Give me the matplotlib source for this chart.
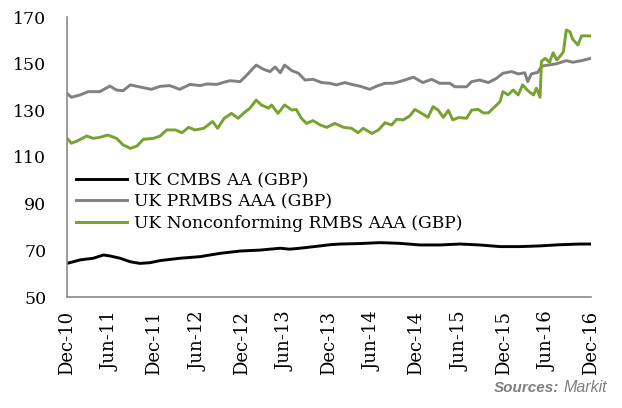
import matplotlib.pyplot as plt

plt.rcParams["font.family"] = ["DejaVu Serif"]

# x = months after Dec-2010
cmbs_m = [0, 1.8, 3.6, 5, 5.9, 7.3, 8.7, 10, 11.4, 12.8, 15.5, 18.3, 21, 23.8, 26.5, 29.3, 30.6, 32,
          34.8, 36.1, 37.5, 40.2, 43, 45.7, 48.5, 51.2, 54, 56.7, 59.5, 62.2, 65, 67.7, 70.5, 72]
cmbs_v = [64.4, 65.9, 66.6, 68.0, 67.6, 66.6, 65.1, 64.4, 64.7, 65.6, 66.6, 67.3, 68.7, 69.7, 70.1, 70.9, 70.5, 70.9,
          71.9, 72.4, 72.7, 72.9, 73.3, 73.0, 72.3, 72.3, 72.7, 72.3, 71.6, 71.6, 71.9, 72.4, 72.7, 72.7]

prmbs_m = [0, 0.6, 1.8, 2.9, 4.5, 5.9, 6.8, 7.7, 8.7, 9.6, 10.5, 11.6, 12.8, 14.1, 15.5, 16.9, 18.3, 19.2,
           20.6, 21.5, 22.4, 23.8, 24.7, 26, 27, 27.9, 28.6, 29.3, 29.9, 30.9, 31.8, 32.7, 33.8, 35, 36.1,
           37, 38.2, 39.1, 40.2, 41.6, 42.5, 43.7, 44.8, 45.7, 47.6, 48.9, 50.1, 51.2, 52.6, 53.3, 54.9,
           55.6, 56.7, 57.9, 59, 59.9, 61.1, 62, 62.9, 63.3, 63.8, 64.7, 65.2, 66.1, 67.3, 68.6, 69.5,
           70.7, 72]
prmbs_v = [137.3, 135.6, 136.6, 138.0, 138.0, 140.4, 138.7, 138.4, 140.9, 140.3, 139.7, 139.0, 140.3, 140.6,
           139.0, 141.1, 140.6, 141.3, 141.1, 142.0, 142.7, 142.3, 145.1, 149.4, 147.6, 146.6, 148.6, 146.1,
           149.4, 147.0, 145.9, 143.0, 143.3, 141.9, 141.6, 140.9, 141.9, 141.1, 140.4, 139.0, 140.3, 141.6,
           141.6, 142.3, 144.2, 141.9, 143.3, 141.6, 141.6, 140.1, 140.1, 142.3, 143.0, 141.9, 143.7, 145.9,
           146.6, 145.6, 146.1, 142.3, 145.6, 146.3, 148.9, 149.4, 150.0, 151.3, 150.6, 151.3, 152.3]

nc_m = [0, 0.6, 1.5, 2.7, 3.6, 4.5, 5.6, 6.8, 7.7, 8.7, 9.6, 10.5, 11.9, 12.8, 13.7, 14.9, 15.8, 16.7,
        17.6, 18.8, 20, 20.7, 21.6, 22.6, 23.5, 24.5, 25.1, 26, 26.7, 27.7, 28.1, 29, 29.9, 30.9, 31.5,
        32.2, 32.9, 33.8, 34.8, 35.7, 36.8, 38, 39.1, 40, 40.7, 41.9, 42.8, 43.7, 44.6, 45.3, 46.2,
        47.1, 47.8, 48.9, 49.6, 50.3, 51, 51.7, 52.4, 53, 53.8, 54.9, 55.6, 56.5, 57.2, 57.9, 58.8,
        59.5, 59.9, 60.6, 61.3, 62, 62.6, 63.4, 64.1, 64.5, 65, 65.2, 65.7, 66.3, 66.8, 67.3, 67.7,
        68.2, 68.6, 69.1, 69.5, 70.2, 70.7, 72]
nc_v = [118.0, 115.9, 117.0, 119.0, 118.0, 118.4, 119.4, 118.0, 115.2, 113.7, 114.7, 117.6, 118.0, 119.0,
        121.6, 121.6, 120.4, 122.7, 121.6, 122.3, 125.2, 122.3, 126.6, 128.7, 126.6, 129.4, 130.8, 134.4,
        132.3, 130.9, 132.3, 128.7, 132.3, 130.1, 130.4, 126.6, 124.4, 125.6, 123.7, 122.7, 124.4, 122.7,
        122.3, 120.4, 122.3, 120.1, 121.6, 124.7, 123.7, 126.2, 125.9, 127.6, 130.4, 128.4, 127.0, 131.6,
        130.1, 127.0, 130.0, 125.9, 126.9, 126.6, 130.1, 130.4, 128.9, 128.9, 131.6, 133.7, 138.0, 136.6,
        138.7, 136.6, 140.9, 138.2, 136.6, 139.5, 135.6, 151.0, 152.3, 150.6, 154.7, 151.6, 153.0, 155.0,
        164.4, 163.7, 160.4, 158.0, 161.9, 161.9]

tick_pos = [0, 6, 12, 18, 24, 30, 36, 42, 48, 54, 60, 66, 72]
tick_label = ["Dec-10", "Jun-11", "Dec-11", "Jun-12", "Dec-12", "Jun-13", "Dec-13",
              "Jun-14", "Dec-14", "Jun-15", "Dec-15", "Jun-16", "Dec-16"]

fig = plt.figure(figsize=(6.22, 4.08), dpi=100)
ax = fig.add_axes([67 / 622, 1 - 297 / 408, 524 / 622, 280 / 408])

ax.plot(cmbs_m, cmbs_v, color="black", lw=2.1, label="UK CMBS AA (GBP)")
ax.plot(prmbs_m, prmbs_v, color="#808080", lw=2.1, label="UK PRMBS AAA (GBP)")
ax.plot(nc_m, nc_v, color="#77a22f", lw=2.1, label="UK Nonconforming RMBS AAA (GBP)")

ax.set_xlim(0, 72)
ax.set_ylim(50, 170)
ax.set_yticks([50, 70, 90, 110, 130, 150, 170])
ax.set_xticks(tick_pos)
ax.set_xticklabels(tick_label, rotation=90)
ax.tick_params(length=0, labelsize=13)
ax.tick_params(axis="y", pad=15, labelsize=12.5)
ax.tick_params(axis="x", pad=10)
for s in ["top", "right"]:
    ax.spines[s].set_visible(False)
for s in ["left", "bottom"]:
    ax.spines[s].set_color("#8a8a8a")
    ax.spines[s].set_linewidth(1.2)

ax.legend(loc="upper left", bbox_to_anchor=(76 / 622, 1 - 172 / 408), bbox_transform=fig.transFigure,
          frameon=False, fontsize=12.3, handlelength=3.0, handletextpad=0.4, labelspacing=0.25,
          borderaxespad=0, borderpad=0)

fig.text(559 / 622, 1 - 388 / 408, "Sources:", ha="right", va="center", color="#7f7f7f",
         family="Liberation Sans", fontsize=11, fontweight="bold", style="italic")
fig.text(564 / 622, 1 - 388 / 408, "Markit", ha="left", va="center", color="#7f7f7f",
         family="Liberation Sans", fontsize=11.5, style="italic")

fig.savefig("out.png", dpi=100)
